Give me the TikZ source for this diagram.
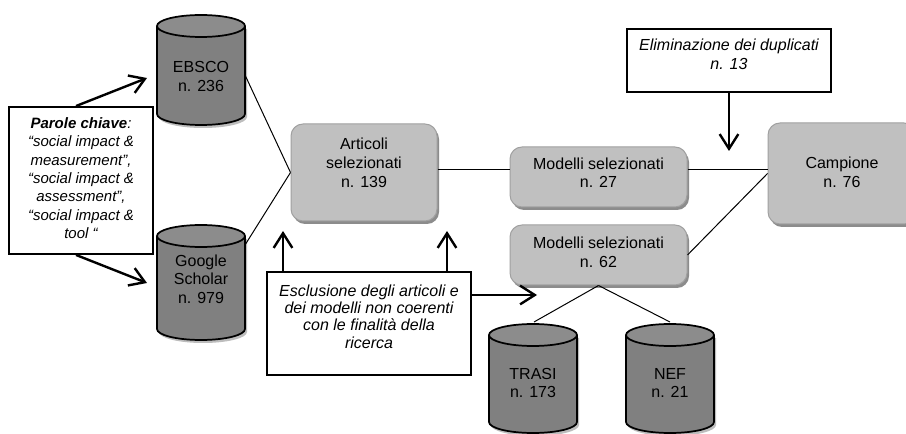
\documentclass[tikz,border=0pt]{standalone}
\usepackage{fontspec}
\setmainfont{Liberation Sans}
\usetikzlibrary{arrows.meta,shadows}
\definecolor{cylbody}{HTML}{808080}
\definecolor{cyltop}{HTML}{8C8C8C}
\definecolor{cylshadow}{HTML}{BDBDBD}
\definecolor{boxfill}{HTML}{C0C0C0}
\definecolor{boxline}{HTML}{A0A0A0}
\definecolor{shadowgray}{HTML}{8C8C8C}
\tikzset{
  graybox/.style={draw=boxline, line width=0.75pt, fill=boxfill, rounded corners=9pt,
    drop shadow={shadow xshift=1.5pt, shadow yshift=-2.25pt, fill=shadowgray, opacity=1}},
  whitebox/.style={draw=black, line width=1.4pt, fill=white},
  boxtext/.style={align=center, inner sep=0pt, font=\fontsize{12}{14.25}\selectfont},
  cyltext/.style={align=center, inner sep=0pt, font=\fontsize{12}{13.7}\selectfont},
  link/.style={line width=0.75pt},
  bigarrow/.style={line width=1.8pt, -{Straight Barb[length=11pt,width=14pt]}},
  cylline/.style={draw=black, line width=1.3pt},
}
\newcommand\drawcyl[3]{%
  \fill[cylshadow, xshift=1.5pt, yshift=-2.25pt] (#1-44,#2) -- (#1-44,#3)
    arc[start angle=180, end angle=360, x radius=33pt, y radius=8.25pt] -- (#1+44,#2) -- cycle;
  \filldraw[fill=cylbody, cylline] (#1-44,#2) -- (#1-44,#3)
    arc[start angle=180, end angle=360, x radius=33pt, y radius=8.25pt] -- (#1+44,#2);
  \filldraw[fill=cyltop, cylline] (#1,#2) ellipse[x radius=33pt, y radius=8.25pt];
}
\begin{document}
\begin{tikzpicture}[x=0.75pt, y=-0.75pt]
\clip (0,0) rectangle (906,434);
\fill[white] (0,0) rectangle (906,434);

% cylinders
\drawcyl{201}{26}{114}
\drawcyl{201}{236}{329}
\drawcyl{533}{335}{422}
\drawcyl{670}{335}{422}
\node[cyltext] (ebsco) at (201,76.5) {EBSCO\\n. 236};
\node[cyltext, font=\fontsize{12}{13.9}\selectfont] (google) at (201,279) {Google\\Scholar\\n. 979};
\node[cyltext, font=\fontsize{12}{14.2}\selectfont] (trasi) at (533,383) {TRASI\\n. 173};
\node[cyltext, font=\fontsize{12}{14.2}\selectfont] (nef) at (670,383) {NEF\\n. 21};
\coordinate (ebscoR) at (245,75);
\coordinate (googleR) at (245,245);
\coordinate (ebscoA) at (147,78);
\coordinate (googleA) at (147,283);
\coordinate (trasiT) at (534,322);
\coordinate (nefT) at (670,322);

% gray boxes
\node[graybox, minimum width=109.5pt, minimum height=72.75pt] (art) at (364,172.5) {};
\node[graybox, minimum width=132.75pt, minimum height=45pt] (m27) at (598.5,177) {};
\node[graybox, minimum width=132.75pt, minimum height=45pt] (m62) at (598.5,255) {};
\node[graybox, minimum width=111pt, minimum height=75.75pt] (camp) at (842,173.5) {};
\node[boxtext] (artT) at (364,162.5) {Articoli\\selezionati\\n. 139};
\node[boxtext, font=\fontsize{12}{13.6}\selectfont] (m27T) at (598.5,173) {Modelli selezionati\\n. 27};
\node[boxtext, font=\fontsize{12}{14.2}\selectfont] (m62T) at (598.5,252) {Modelli selezionati\\n. 62};
\node[boxtext, font=\fontsize{12}{14.2}\selectfont] (campT) at (842,172) {Campione\\n. 76};

% white boxes
\node[whitebox, minimum width=108pt, minimum height=110.25pt] (kw) at (81,180.5) {};
\node[whitebox, minimum width=153pt, minimum height=47.25pt] (elim) at (729,60.5) {};
\node[whitebox, minimum width=153pt, minimum height=77.25pt] (excl) at (369,323.5) {};
\node[boxtext, font=\fontsize{11.25}{13.75}\selectfont\itshape] (kwT) at (81,178)
  {\textbf{Parole chiave}:\\“social impact \&\\measurement”,\\“social impact \&\\assessment”,\\“social impact \&\\tool “};
\node[boxtext, font=\fontsize{12}{13.9}\selectfont\itshape] (elimT) at (729,54.5) {Eliminazione dei duplicati\\n. 13};
\node[boxtext, font=\fontsize{12}{13.05}\selectfont\itshape] (exclT) at (369,316.5)
  {Esclusione degli articoli e\\dei modelli non coerenti\\con le finalità della\\ricerca};

% thin connectors
\coordinate (row) at (0,170);
\draw[link] (ebscoR) -- (art.west);
\draw[link] (googleR) -- (art.west);
\draw[link] (art.east |- row) -- (m27.west |- row);
\draw[link] (m27.east |- row) -- (camp.west |- row);
\draw[link] (m62.east) -- (camp.west);
\draw[link] (m62.south) -- (trasiT);
\draw[link] (m62.south) -- (nefT);

% arrows
\coordinate (elimA) at (729,151);
\coordinate (exA1) at (283,231);
\coordinate (exA2) at (447,231);
\coordinate (exA3) at (537,295);
\draw[bigarrow] ([xshift=-3.75pt]kw.north) -- (ebscoA);
\draw[bigarrow] ([xshift=-3.75pt]kw.south) -- (googleA);
\draw[bigarrow] (elim.south) -- (elimA);
\draw[bigarrow] (exA1 |- excl.north) -- (exA1);
\draw[bigarrow] (exA2 |- excl.north) -- (exA2);
\draw[bigarrow] (excl.east |- exA3) -- (exA3);
\end{tikzpicture}
\end{document}
